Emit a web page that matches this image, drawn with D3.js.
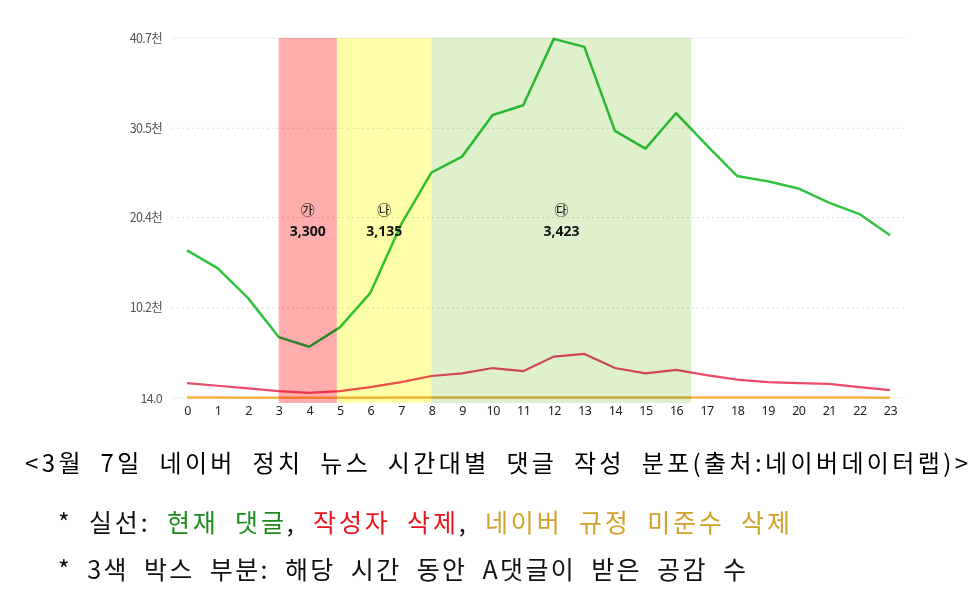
<!DOCTYPE html>
<html>
<head>
<meta charset="utf-8">
<script src="https://cdn.jsdelivr.net/npm/d3@7"></script>
<style>
  body { margin: 0; background: #fff; }
  svg { display: block; }
</style>
</head>
<body>
<div id="chart"></div>
<script>
// hours 0..23
const hours = d3.range(0, 24);

// comments per hour, in thousands (천)
const currentComments = [16.7, 14.7, 11.3, 6.9, 5.8, 8.0, 11.9, 19.6, 25.5, 27.3, 32.0, 33.1,
    40.6, 39.7, 30.2, 28.2, 32.2, 28.6, 25.1, 24.5, 23.7, 22.1, 20.8, 18.4];
const deletedByAuthor = [1.7, 1.4, 1.1, 0.8, 0.6, 0.8, 1.25, 1.8, 2.5, 2.8, 3.4, 3.05,
    4.7, 5.0, 3.4, 2.8, 3.2, 2.6, 2.1, 1.8, 1.7, 1.6, 1.25, 0.9];
const deletedByPolicy = [0.06, 0.06, 0.05, 0.05, 0.04, 0.05, 0.05, 0.06, 0.07, 0.07, 0.07, 0.07,
    0.08, 0.08, 0.07, 0.07, 0.07, 0.07, 0.06, 0.06, 0.06, 0.06, 0.06, 0.05];

// y axis ticks (values in 천) and their labels
const yTickValues = [0.014, 10.2, 20.4, 30.5, 40.7];
const yTickLabels = ['14.0', '10.2천', '20.4천', '30.5천', '40.7천'];

// highlighted time windows
const boxMarks = ['㉮', '㉯', '㉰'];
const boxLikes = ['3,300', '3,135', '3,423'];
const boxFrom = [3, 4.9, 8];
const boxTo = [4.9, 8, 16.5];
const boxColors = ['#ffadad', '#ffffaa', '#dff0cc'];

const captionText = '<3월 7일 네이버 정치 뉴스 시간대별 댓글 작성 분포(출처:네이버데이터랩)>';
const legendParts = [
    { text: '* 실선: ', color: '#111' },
    { text: '현재 댓글', color: '#1e8a1e' },
    { text: ', ', color: '#111' },
    { text: '작성자 삭제', color: '#e8141e' },
    { text: ', ', color: '#111' },
    { text: '네이버 규정 미준수 삭제', color: '#d0a12c' }
];
const noteText = '* 3색 박스 부분: 해당 시간 동안 A댓글이 받은 공감 수';

const W = 979, H = 593;
const svg = d3.select('#chart').append('svg').attr('width', W).attr('height', H);

const x = d3.scaleLinear().domain([0, 23]).range([187, 890]);
const y = d3.scaleLinear().domain([0.014, 40.7]).range([398, 38]);

// gridlines
svg.append('g').selectAll('line')
    .data(yTickValues)
    .join('line')
    .attr('x1', 172).attr('x2', 905)
    .attr('y1', d => y(d)).attr('y2', d => y(d))
    .attr('stroke', (d, i) => (i === 0 || i === yTickValues.length - 1) ? '#ececec' : '#dedede')
    .attr('stroke-width', 1)
    .attr('stroke-dasharray', (d, i) => (i === 0 || i === yTickValues.length - 1) ? null : '2,3');

// y labels
const yAxis = svg.append('g')
    .attr('transform', 'translate(162,0)')
    .call(d3.axisLeft(y).tickValues(yTickValues).tickSize(0).tickPadding(0)
        .tickFormat((d, i) => yTickLabels[i]));
yAxis.select('.domain').remove();
yAxis.selectAll('text')
    .attr('font-family', '"Noto Sans CJK KR", "Noto Sans", sans-serif')
    .attr('font-size', 12.5)
    .attr('letter-spacing', -0.7)
    .attr('fill', '#555');

// x labels
const xAxis = svg.append('g')
    .attr('transform', 'translate(0,403)')
    .call(d3.axisBottom(x).tickValues(hours).tickSize(0).tickPadding(3).tickFormat(d3.format('d')));
xAxis.select('.domain').remove();
xAxis.selectAll('text')
    .attr('font-family', '"Noto Sans", "DejaVu Sans", sans-serif')
    .attr('font-size', 12.5)
    .attr('letter-spacing', -0.5)
    .attr('fill', '#222');

// lines
const line = d3.line().x((d, i) => x(hours[i])).y(d => y(d));

svg.append('path').datum(deletedByPolicy)
    .attr('fill', 'none').attr('stroke', '#f3b443').attr('stroke-width', 2.5).attr('d', line);
svg.append('path').datum(deletedByAuthor)
    .attr('fill', 'none').attr('stroke', '#ec4b68').attr('stroke-width', 2.2).attr('d', line);
svg.append('path').datum(currentComments)
    .attr('fill', 'none').attr('stroke', '#2fc33e').attr('stroke-width', 2.5)
    .attr('stroke-linejoin', 'round').attr('d', line);

// boxes, multiplied over the lines
svg.append('g').selectAll('rect')
    .data(boxMarks)
    .join('rect')
    .attr('x', (d, i) => x(boxFrom[i]))
    .attr('width', (d, i) => x(boxTo[i]) - x(boxFrom[i]))
    .attr('y', y(40.7))
    .attr('height', 403 - y(40.7))
    .attr('fill', (d, i) => boxColors[i])
    .style('mix-blend-mode', 'multiply');

// box labels
const labels = svg.append('g').selectAll('g')
    .data(boxMarks)
    .join('g')
    .attr('transform', (d, i) => `translate(${x((boxFrom[i] + boxTo[i]) / 2)},0)`);
labels.append('text')
    .attr('y', 215)
    .attr('text-anchor', 'middle')
    .attr('font-family', '"Noto Sans CJK KR", sans-serif')
    .attr('font-size', 14)
    .attr('fill', '#111')
    .text(d => d);
labels.append('text')
    .attr('y', 236)
    .attr('text-anchor', 'middle')
    .attr('font-family', '"Noto Sans", sans-serif')
    .attr('font-weight', 'bold')
    .attr('font-size', 14)
    .attr('fill', '#111')
    .text((d, i) => boxLikes[i]);

// text below the chart: widen spaces, then letters, to reach the reference widths
function fitText(sel, targetWidth) {
    const node = sel.node();
    const txt = node.textContent;
    const n = txt.length;
    const spaces = (txt.match(/ /g) || []).length;
    const extra = targetWidth - node.getComputedTextLength();
    const ws = Math.min(8, extra * 0.5 / Math.max(spaces, 1));
    sel.attr('word-spacing', ws);
    const rest = targetWidth - node.getComputedTextLength();
    sel.attr('letter-spacing', rest / (n - 1));
}

const kr = '"Noto Sans CJK KR", sans-serif';

const caption = svg.append('text')
    .attr('x', 25).attr('y', 472)
    .attr('font-family', kr).attr('font-size', 24)
    .attr('fill', '#000')
    .text(captionText);
fitText(caption, 943);

const legend = svg.append('text')
    .attr('x', 58).attr('y', 532)
    .attr('font-family', kr).attr('font-size', 25);
legend.selectAll('tspan')
    .data(legendParts)
    .join('tspan')
    .attr('fill', d => d.color)
    .text(d => d.text);
fitText(legend, 732);

const note = svg.append('text')
    .attr('x', 58).attr('y', 579)
    .attr('font-family', kr).attr('font-size', 25)
    .attr('fill', '#111')
    .text(noteText);
fitText(note, 688);
</script>
</body>
</html>
